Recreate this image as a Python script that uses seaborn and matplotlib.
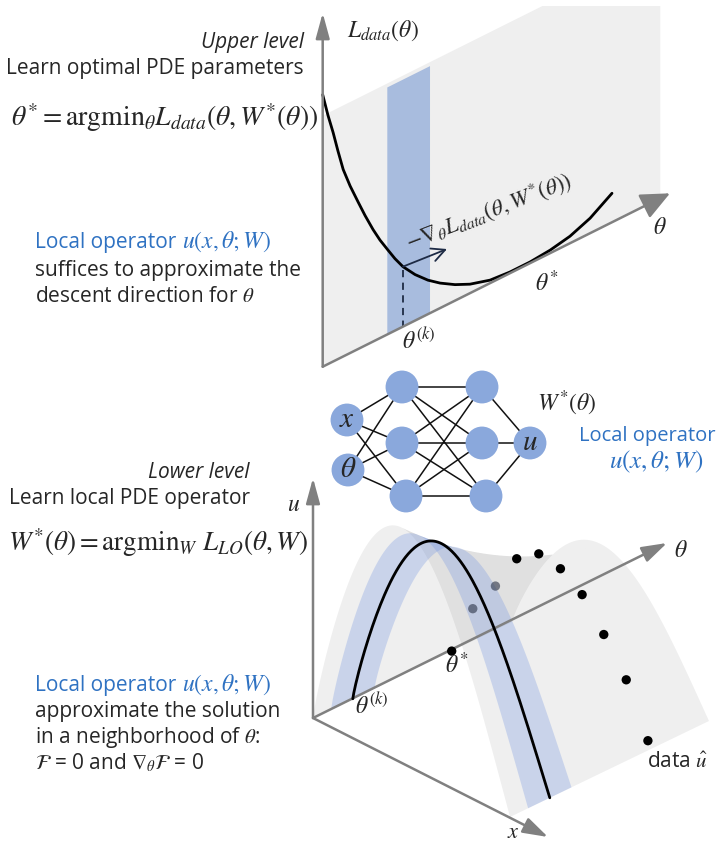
import numpy as np
import matplotlib
matplotlib.use("Agg")
import matplotlib.pyplot as plt
import seaborn as sns
from matplotlib.patches import Polygon, Rectangle

sns.set_theme(style="white")
plt.rcParams["font.family"] = ["Open Sans", "DejaVu Sans"]
plt.rcParams["mathtext.fontset"] = "stix"

# ---------------- values ----------------
# upper level: data loss along the theta axis
upper_theta = [0.0, 0.015, 0.030, 0.044, 0.059, 0.079, 0.102, 0.122, 0.145, 0.165,
               0.188, 0.208, 0.231, 0.266, 0.303, 0.338, 0.381, 0.424, 0.482, 0.539,
               0.597, 0.655, 0.712, 0.770, 0.833]
upper_loss = [2.72, 2.49, 2.29, 2.08, 1.87, 1.67, 1.47, 1.30, 1.12, 0.98,
              0.84, 0.72, 0.60, 0.46, 0.34, 0.25, 0.16, 0.09, 0.03, 0.012,
              0.012, 0.03, 0.07, 0.15, 0.29]
theta_k_upper = 0.231
band_upper = [0.186, 0.309]

# lower level: solution surface u(x, theta)
ridge_theta = [0.0, 0.2, 0.7, 1.0]
ridge_height = [2.36, 1.98, 1.41, 1.22]
peak_x = 0.45
theta_k = 0.20
theta_band = [0.091, 0.309]
theta_star = 0.697

# observed data at theta*
data_x = [0.107, 0.222, 0.330, 0.442, 0.552, 0.662, 0.772, 0.886, 0.996]
data_u = [0.53, 0.87, 1.25, 1.41, 1.37, 1.22, 0.93, 0.59, 0.09]
data_hidden = [True, True, False, False, False, False, False, False, False]

# network layers (inputs, hidden, hidden, output)
net_labels = [["x", "\\theta"], ["", "", ""], ["", "", ""], ["u"]]

# ---------------- colours ----------------
AXIS = "#808080"
PLANE = "#efefef"
BAND = "#a8bcde"
NODE = "#8aa8dc"
NAVY = "#1e2b45"
BLUE_TXT = "#2f72c2"
BODY = 15

fig = plt.figure(figsize=(7.16, 8.49), dpi=100)
ax = fig.add_axes([0, 0, 1, 1])
ax.set_xlim(0, 716)
ax.set_ylim(849, 0)
ax.axis("off")


def arrow(p0, p1, color=AXIS, lw=1.8, scale=14, hl=0.9, hw=0.32, z=5, style="-|>"):
    ax.annotate("", xy=p1, xytext=p0,
                arrowprops=dict(arrowstyle=f"{style},head_length={hl},head_width={hw}",
                                color=color, lw=lw, shrinkA=0, shrinkB=0,
                                mutation_scale=scale), zorder=z)


def operator_line(x, y):
    t = ax.text(x, y, "Local operator", fontsize=BODY, color=BLUE_TXT,
                ha="left", va="baseline")
    ax.annotate(r"$u(x,\theta;W)$", xy=(1, 0), xycoords=t, xytext=(4, -1),
                textcoords="offset points", fontsize=17,
                color=BLUE_TXT, ha="left", va="bottom")


# ================= upper panel =================
U_O = np.array([322.7, 366.7])
U_T = np.array([347.3, -173.4])


def up(theta, L):
    theta = np.asarray(theta, float)
    L = np.asarray(L, float)
    return U_O[0] + U_T[0] * theta, U_O[1] + U_T[1] * theta - 100 * L


# vertical plane behind the curve
plane_h = 2.51
t_end = 0.972
px, py = up([0, t_end, t_end, 0], [0, 0, plane_h, plane_h])
plane = Polygon(np.c_[px, py], closed=True, fc=PLANE, ec="none", zorder=1)
ax.add_patch(plane)
plane.set_clip_path(Rectangle((0, 6), 716, 849, transform=ax.transData))

# neighbourhood band around theta^(k)
b0, b1 = band_upper
bx, by = up([b0, b1, b1, b0], [0, 0, 2.47, 2.47])
ax.add_patch(Polygon(np.c_[bx, by], closed=True, fc=BAND, ec="none", zorder=2))

# axes
arrow(tuple(U_O), (322.7, 13), scale=14, hl=1.1, hw=0.3)
arrow(tuple(U_O), (670, 193.3), scale=18, hl=1.0, hw=0.45)

# loss curve
cx, cy = up(upper_theta, upper_loss)
sns.lineplot(x=cx, y=cy, sort=False, color="black", lw=2.0, ax=ax, zorder=4)

# point at theta^(k), dashed drop and descent arrow
Lk = np.interp(theta_k_upper, upper_theta, upper_loss)
kx, ky = up(theta_k_upper, Lk)
_, ky0 = up(theta_k_upper, 0)
ax.plot([kx, kx], [ky + 3, ky0], ls=(0, (4, 3)), color=NAVY, lw=1.3, zorder=4)
ex, ey = up(0.358, 0.556)
arrow((kx, ky), (ex, ey), color=NAVY, lw=1.3, scale=12, hl=0.8, hw=0.4, style="->")

ax.text(383, 31, r"$L_{data}(\theta)$", fontsize=17, ha="center", va="center")
ax.text(660, 228, r"$\theta$", fontsize=17, ha="center", va="center")
ax.text(547, 284, r"$\theta^{*}$", fontsize=17, ha="center", va="center")
ax.text(419, 342, r"$\theta^{(k)}$", fontsize=17, ha="center", va="center")
ax.text(489, 211, r"$-\nabla_{\theta}L_{data}(\theta,W^{*}(\theta))$", fontsize=16.5,
        ha="center", va="center", rotation=21, rotation_mode="anchor")

ax.text(304, 42, "Upper level", fontsize=BODY, style="italic", weight="medium",
        ha="right", va="center")
ax.text(304, 68, "Learn optimal PDE parameters", fontsize=BODY, ha="right", va="center")
ax.text(318, 118, r"$\theta^{*} = \mathrm{argmin}_{\theta}L_{data}(\theta, W^{*}(\theta))$",
        fontsize=20, ha="right", va="center")
operator_line(35, 248)
ax.text(35, 276, "suffices to approximate the", fontsize=BODY, ha="left", va="baseline")
ax.text(35, 302, r"descent direction for $\theta$", fontsize=BODY, ha="left", va="baseline")

# ================= network =================
layer_x = [347, 402, 482, 530]
layer_y = [[420, 470], [387, 443, 496], [387, 443, 496], [443]]
layer_dx = [[0, 1], [0, 0, 4], [0, 0, 4], [0]]
nodes = [[(layer_x[i] + layer_dx[i][j], y) for j, y in enumerate(layer_y[i])]
         for i in range(len(layer_x))]
for a, b in zip(nodes[:-1], nodes[1:]):
    for p in a:
        for q in b:
            ax.plot([p[0], q[0]], [p[1], q[1]], color="#111111", lw=1.1, zorder=6)
flat = [p for layer in nodes for p in layer]
sns.scatterplot(x=[p[0] for p in flat], y=[p[1] for p in flat], s=560, color=NODE,
                edgecolor="none", ax=ax, zorder=7, legend=False)
for layer, labels in zip(nodes, net_labels):
    for p, lab in zip(layer, labels):
        if lab:
            ax.text(p[0], p[1] - 1, f"${lab}$", fontsize=21, ha="center", va="center", zorder=8)
ax.text(537, 403, r"$W^{*}(\theta)$", fontsize=17, ha="left", va="center")
ax.text(647, 436, "Local operator", fontsize=14.5, color=BLUE_TXT, ha="center",
        va="center")
ax.text(656, 462, r"$u(x,\theta;W)$", fontsize=18, color=BLUE_TXT, ha="center", va="center")

# ================= lower panel =================
L_O = np.array([313.0, 718.0])
L_X = np.array([197.0, 99.0])
L_T = np.array([199.0, -96.0])

coef = np.polyfit(ridge_theta, ridge_height, 2)
pexp = np.log(0.5) / np.log(peak_x)


def height(x, theta):
    return np.polyval(coef, theta) * np.sin(np.pi * np.clip(x, 0, 1) ** pexp)


def lo(x, theta, u):
    x = np.asarray(x, float)
    theta = np.asarray(theta, float)
    u = np.asarray(u, float)
    return (L_O[0] + L_X[0] * x + L_T[0] * theta,
            L_O[1] + L_X[1] * x + L_T[1] * theta - 100 * u)


def surface_half(t0, t1, rising):
    xs = np.linspace(0, peak_x, 60) if rising else np.linspace(peak_x, 1, 60)
    ts = np.linspace(t0, t1, 60)
    xe = 0.0 if rising else 1.0
    pts = []
    pts += list(zip(*lo(xs, t0, height(xs, t0))))
    if rising:
        pts += list(zip(*lo(peak_x, ts, height(peak_x, ts))))
        pts += list(zip(*lo(xs[::-1], t1, height(xs[::-1], t1))))
        pts += list(zip(*lo(xe, ts[::-1], 0 * ts)))
    else:
        pts += list(zip(*lo(xe, ts, 0 * ts)))
        pts += list(zip(*lo(xs[::-1], t1, height(xs[::-1], t1))))
        pts += list(zip(*lo(peak_x, ts[::-1], height(peak_x, ts[::-1]))))
    return np.array(pts)


for rising in (True, False):
    ax.add_patch(Polygon(surface_half(0.0, 1.0, rising), closed=True,
                         fc=(0, 0, 0, 0.063), ec="none", lw=0, zorder=2))
for rising in (True, False):
    ax.add_patch(Polygon(surface_half(theta_band[0], theta_band[1], rising), closed=True,
                         fc=(0.45, 0.58, 0.88, 0.30), ec="none", lw=0, zorder=3))

# axes of the lower panel
arrow(tuple(L_O), (313, 478), scale=14, hl=1.1, hw=0.3, z=5)
arrow(tuple(L_O), (667, 543), scale=14, hl=1.1, hw=0.35, z=5)
arrow(tuple(L_O), (548, 837), scale=14, hl=1.1, hw=0.35, z=5)

# solution curve at theta^(k)
xs = np.linspace(0, 1, 200)
sx, sy = lo(xs, theta_k, height(xs, theta_k))
sns.lineplot(x=sx, y=sy, sort=False, color="black", lw=2.0, ax=ax, zorder=6)

# data points and theta*
dx, dy = lo(data_x, theta_star, data_u)
hid = np.array(data_hidden)
sns.scatterplot(x=dx[~hid], y=dy[~hid], s=45, color="black", edgecolor="none",
                ax=ax, zorder=7, legend=False)
sns.scatterplot(x=dx[hid], y=dy[hid], s=45, color="#2a3245", alpha=0.6, edgecolor="none",
                ax=ax, zorder=7, legend=False)
tsx, tsy = lo(0, theta_star, 0)
sns.scatterplot(x=[tsx], y=[tsy], s=45, color="black", edgecolor="none", ax=ax,
                zorder=7, legend=False)

ax.text(294, 505, r"$u$", fontsize=17, ha="center", va="center")
ax.text(681, 551, r"$\theta$", fontsize=17, ha="center", va="center")
ax.text(513, 838, r"$x$", fontsize=16, ha="center", va="baseline")
ax.text(372, 707, r"$\theta^{(k)}$", fontsize=17, ha="center", va="center", zorder=8)
ax.text(457, 666, r"$\theta^{*}$", fontsize=17, ha="center", va="center", zorder=8)
ax.text(677, 763, r"data $\hat{u}$", fontsize=BODY, ha="center", va="center")

ax.text(250, 472, "Lower level", fontsize=BODY, style="italic", weight="medium",
        ha="right", va="center")
ax.text(250, 498, "Learn local PDE operator", fontsize=BODY, ha="right", va="center")
ax.text(308, 543, r"$W^{*}(\theta) = \mathrm{argmin}_{W}\ L_{LO}(\theta, W)$",
        fontsize=19.5, ha="right", va="center")
operator_line(35, 691)
ax.text(35, 717, "approximate the solution", fontsize=BODY, ha="left", va="baseline")
ax.text(35, 743, r"in a neighborhood of $\theta$:", fontsize=BODY, ha="left", va="baseline")
ax.text(35, 769, r"$\mathcal{F}$ = 0 and $\nabla_{\theta}\mathcal{F}$ = 0", fontsize=BODY,
        ha="left", va="baseline")

fig.savefig("out.png", dpi=100)
